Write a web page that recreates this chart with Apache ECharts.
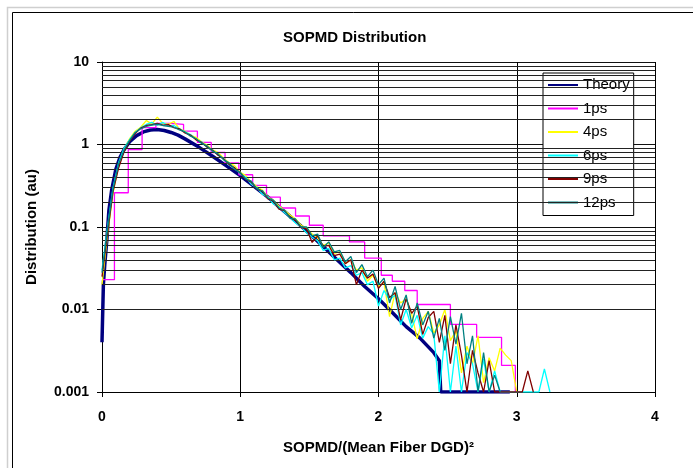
<!DOCTYPE html>
<html>
<head>
<meta charset="utf-8">
<script src="https://cdn.jsdelivr.net/npm/echarts@6/dist/echarts.min.js"></script>
<style>
html, body { margin: 0; padding: 0; background: #fff; }
#chart { width: 693px; height: 468px; }
</style>
</head>
<body>
<div id="chart"></div>
<script>
// theory curve
var theoryX = [0, 0.01, 0.02, 0.035, 0.05, 0.07, 0.1, 0.13, 0.16, 0.2, 0.25, 0.3, 0.35, 0.4, 0.45, 0.5, 0.55, 0.6, 0.7, 0.8, 0.9, 1.0,
  1.1, 1.2, 1.3, 1.4, 1.5, 1.6, 1.7, 1.8, 1.9, 2.0, 2.1, 2.2, 2.3, 2.4, 2.44, 2.45, 2.95];
var theoryY = [0.004, 0.02, 0.035, 0.07, 0.16, 0.28, 0.5, 0.7, 0.87, 1.08, 1.28, 1.42, 1.5, 1.52, 1.48, 1.4, 1.3, 1.17, 0.93, 0.72, 0.55, 0.42,
  0.31, 0.23, 0.165, 0.118, 0.083, 0.058, 0.04, 0.028, 0.019, 0.0135, 0.0092, 0.0062, 0.0045, 0.003, 0.0024, 0.001, 0.001];

// 1ps histogram: bin start, value
var onePsX = [0, 0.09, 0.19, 0.29, 0.39, 0.49, 0.59, 0.69, 0.79, 0.89, 0.99, 1.09, 1.19, 1.29, 1.40, 1.50, 1.60, 1.79, 1.90,
  2.02, 2.10, 2.19, 2.28, 2.52, 2.71, 2.89, 2.99];
var onePsY = [0.023, 0.26, 0.87, 1.6, 1.8, 1.75, 1.45, 1.06, 0.80, 0.60, 0.43, 0.32, 0.23, 0.17, 0.136, 0.105, 0.078, 0.066, 0.042,
  0.026, 0.022, 0.017, 0.0115, 0.0066, 0.0046, 0.0021, 0.001];

// sample positions of the other measured curves
var measX = [0, 0.04, 0.08, 0.12, 0.16, 0.2, 0.24, 0.28, 0.32, 0.36, 0.4, 0.44, 0.48, 0.52, 0.56, 0.6, 0.64, 0.68, 0.72, 0.76,
  0.8, 0.84, 0.88, 0.92, 0.96, 1, 1.04, 1.08, 1.12, 1.16, 1.2, 1.24, 1.28, 1.32, 1.36, 1.4, 1.44, 1.48, 1.52, 1.56,
  1.6, 1.64, 1.68, 1.72, 1.76, 1.8, 1.84, 1.88, 1.92, 1.96, 2, 2.04, 2.08, 2.12, 2.16, 2.2, 2.24, 2.28, 2.32, 2.36,
  2.4, 2.44, 2.48, 2.52, 2.56, 2.6, 2.64, 2.68, 2.72, 2.76, 2.8, 2.84, 2.88, 2.92, 2.96, 3, 3.04, 3.08, 3.12, 3.16,
  3.2, 3.24, 3.28];

var fourPs = [0.02, 0.08, 0.26, 0.55, 0.88, 1.18, 1.45, 1.62, 1.95, 1.78, 2.15, 1.8, 1.76, 1.9, 1.55, 1.45, 1.3, 1.22, 1.08, 0.98,
  0.86, 0.8, 0.68, 0.6, 0.55, 0.46, 0.42, 0.35, 0.31, 0.28, 0.23, 0.21, 0.18, 0.16, 0.14, 0.125, 0.105, 0.098, 0.082, 0.074,
  0.06, 0.064, 0.048, 0.05, 0.036, 0.04, 0.03, 0.032, 0.022, 0.026, 0.019, 0.021, 0.0082, 0.016, 0.012, 0.0135, 0.0088, 0.0044, 0.0078, 0.0095,
  0.0052, 0.0065, 0.01, 0.0042, 0.0055, 0.0017, 0.0036, 0.0022, 0.0048, 0.0013, 0.0026, 0.0018, 0.0034, 0.0028, 0.0024, 0.001];

var sixPs = [0.03, 0.1, 0.3, 0.6, 0.9, 1.15, 1.4, 1.6, 1.75, 1.85, 1.72, 1.85, 1.68, 1.7, 1.55, 1.42, 1.32, 1.15, 1.08, 0.92,
  0.86, 0.74, 0.68, 0.56, 0.52, 0.44, 0.4, 0.33, 0.3, 0.25, 0.23, 0.19, 0.175, 0.15, 0.13, 0.112, 0.1, 0.085, 0.075, 0.068,
  0.052, 0.055, 0.04, 0.042, 0.032, 0.034, 0.026, 0.028, 0.02, 0.022, 0.011, 0.017, 0.013, 0.015, 0.0065, 0.01, 0.006, 0.0085, 0.0045, 0.0062,
  0.005, 0.001, 0.0048, 0.001, 0.0036, 0.001, 0.003, 0.0022, 0.001, 0.0025, 0.001, 0.0018, 0.001, 0.001, 0.001, 0.001, 0.001, 0.001, 0.001, 0.001,
  0.0019, 0.001];

var ninePs = [0.025, 0.085, 0.27, 0.52, 0.82, 1.1, 1.36, 1.58, 1.7, 1.74, 1.8, 1.72, 1.74, 1.6, 1.55, 1.38, 1.3, 1.14, 1.06, 0.93,
  0.85, 0.74, 0.67, 0.57, 0.52, 0.45, 0.38, 0.35, 0.29, 0.27, 0.22, 0.205, 0.165, 0.158, 0.13, 0.12, 0.098, 0.095, 0.065, 0.078,
  0.058, 0.06, 0.045, 0.047, 0.036, 0.04, 0.02, 0.03, 0.024, 0.027, 0.018, 0.022, 0.014, 0.016, 0.0075, 0.0135, 0.009, 0.011, 0.005, 0.008,
  0.0095, 0.004, 0.0085, 0.0022, 0.0065, 0.0028, 0.001, 0.0032, 0.0017, 0.001, 0.0024, 0.001, 0.001, 0.001, 0.001, 0.001, 0.001, 0.0018, 0.001];

var twelvePs = [0.028, 0.095, 0.29, 0.58, 0.86, 1.12, 1.4, 1.55, 1.66, 1.72, 1.76, 1.7, 1.66, 1.62, 1.5, 1.42, 1.26, 1.18, 1.03, 0.96,
  0.83, 0.77, 0.65, 0.6, 0.5, 0.46, 0.38, 0.36, 0.29, 0.275, 0.225, 0.21, 0.17, 0.16, 0.128, 0.125, 0.1, 0.1, 0.078, 0.082,
  0.056, 0.066, 0.05, 0.052, 0.038, 0.044, 0.028, 0.035, 0.025, 0.03, 0.02, 0.024, 0.012, 0.019, 0.01, 0.015, 0.0068, 0.012, 0.0065, 0.0095,
  0.0045, 0.0078, 0.0032, 0.0082, 0.0038, 0.009, 0.0022, 0.0048, 0.001, 0.003, 0.001, 0.0016, 0.001];

var seriesNames = ['Theory', '1ps', '4ps', '6ps', '9ps', '12ps'];
var decades = [0.001, 0.01, 0.1, 1];
var minorSteps = [2, 3, 4, 5, 6, 7, 8, 9];

function pairs(xs, ys) {
  return ys.map(function (v, i) { return [xs[i], v]; });
}

var minorLines = [];
decades.forEach(function (d) {
  minorSteps.forEach(function (m) {
    minorLines.push({ yAxis: +(d * m).toPrecision(3) });
  });
});

var font = '"Liberation Sans", Arial, sans-serif';
var chart = echarts.init(document.getElementById('chart'));

var option = {
  animation: false,
  backgroundColor: '#fff',
  title: {
    text: 'SOPMD Distribution',
    left: 278,
    top: 25,
    textStyle: { fontFamily: font, fontSize: 15, fontWeight: 'bold', color: '#000' }
  },
  graphic: [
    { type: 'rect', silent: true, shape: { x: 7.5, y: 7.5, width: 720, height: 480 },
      style: { fill: null, stroke: '#cfcfcf', lineWidth: 1.5 } },
    { type: 'rect', silent: true, shape: { x: 12.5, y: 12.5, width: 720, height: 480 },
      style: { fill: null, stroke: '#000', lineWidth: 1 } }
  ],
  legend: {
    orient: 'vertical',
    left: 543,
    top: 73,
    data: seriesNames,
    backgroundColor: '#fff',
    borderColor: '#000',
    borderWidth: 1,
    borderRadius: 0,
    padding: [4, 4, 5, 4],
    itemWidth: 30,
    itemHeight: 16,
    itemGap: 7.5,
    itemStyle: { opacity: 0 },
    textStyle: { fontFamily: font, fontSize: 15, color: '#000', lineHeight: 16 }
  },
  grid: { left: 102, right: 38, top: 62, bottom: 76 },
  xAxis: {
    type: 'value',
    min: 0,
    max: 4,
    interval: 1,
    name: 'SOPMD/(Mean Fiber DGD)²',
    nameLocation: 'middle',
    nameGap: 48,
    nameTextStyle: { fontFamily: font, fontSize: 15, fontWeight: 'bold', color: '#000' },
    axisLine: { lineStyle: { color: '#000', width: 1 } },
    axisTick: { length: 5, lineStyle: { color: '#000' } },
    axisLabel: { margin: 18, fontFamily: font, fontSize: 14, fontWeight: 'bold', color: '#000' },
    splitLine: { show: true, lineStyle: { color: '#000', width: 1 } }
  },
  yAxis: {
    type: 'log',
    logBase: 10,
    min: 0.001,
    max: 10,
    name: 'Distribution (au)',
    nameLocation: 'middle',
    nameGap: 63,
    nameTextStyle: { fontFamily: font, fontSize: 15, fontWeight: 'bold', color: '#000' },
    axisLine: { show: true, lineStyle: { color: '#000', width: 1 } },
    axisTick: { show: true, length: 5, lineStyle: { color: '#000' } },
    axisLabel: {
      margin: 13,
      fontFamily: font, fontSize: 14, fontWeight: 'bold', color: '#000',
      formatter: function (v) { return String(+v.toPrecision(3)); }
    },
    splitLine: { show: true, lineStyle: { color: '#111', width: 1 } }
  },
  series: [
    {
      name: 'minor', type: 'line', data: [], silent: true, z: 1,
      markLine: {
        silent: true, symbol: ['none', 'none'], label: { show: false },
        animation: false,
        lineStyle: { color: '#222', width: 1, type: 'solid' },
        data: minorLines
      }
    },
    {
      name: 'Theory', type: 'line', z: 2, symbol: 'none', color: '#000080',
      lineStyle: { width: 3.5, color: '#000080' },
      data: pairs(theoryX, theoryY)
    },
    {
      name: '1ps', type: 'line', z: 3, symbol: 'none', step: 'end', color: '#ff00ff',
      lineStyle: { width: 1.3, color: '#ff00ff' },
      data: pairs(onePsX, onePsY)
    },
    {
      name: '4ps', type: 'line', z: 4, symbol: 'none', color: '#ffff00',
      lineStyle: { width: 1.3, color: '#ffff00' },
      data: pairs(measX, fourPs)
    },
    {
      name: '6ps', type: 'line', z: 5, symbol: 'none', color: '#00ffff',
      lineStyle: { width: 1.3, color: '#00ffff' },
      data: pairs(measX, sixPs)
    },
    {
      name: '9ps', type: 'line', z: 6, symbol: 'none', color: '#800000',
      lineStyle: { width: 1.3, color: '#800000' },
      data: pairs(measX, ninePs)
    },
    {
      name: '12ps', type: 'line', z: 7, symbol: 'none', color: '#008080',
      lineStyle: { width: 1.3, color: '#008080' },
      data: pairs(measX, twelvePs)
    }
  ]
};
chart.setOption(option);
</script>
</body>
</html>
